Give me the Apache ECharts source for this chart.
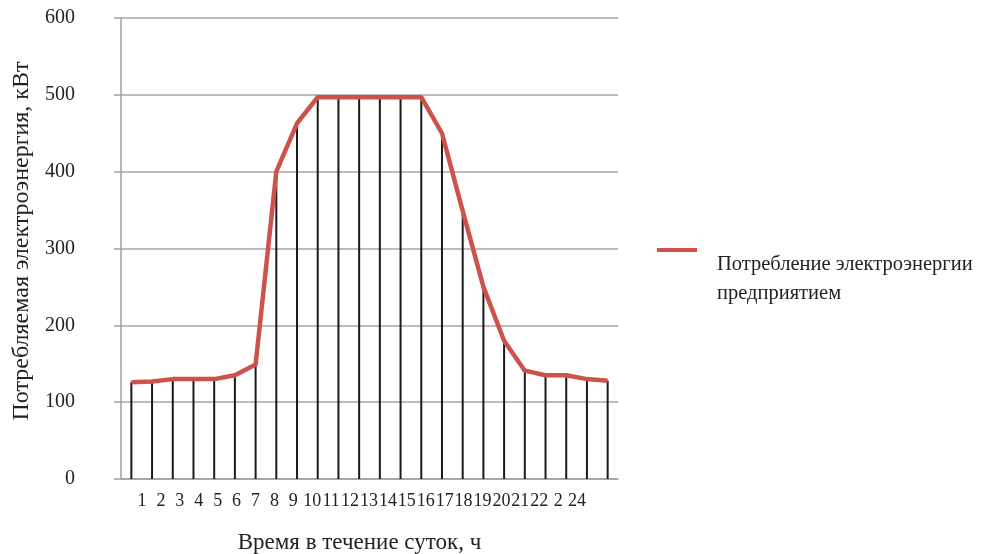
<!DOCTYPE html>
<html>
<head>
<meta charset="utf-8">
<script src="https://cdn.jsdelivr.net/npm/echarts@6/dist/echarts.min.js"></script>
<style>html,body{margin:0;padding:0;background:#fff}#c{width:984px;height:554px}</style>
</head>
<body>
<div id="c"></div>
<script>
const hours = ['1','2','3','4','5','6','7','8','9','10','11','12','13','14','15','16','17','18','19','20','21','22','23','24'];
const hourLabels = ['1','2','3','4','5','6','7','8','9','10','11','12','13','14','15','16','17','18','19','20','21','22','2','24'];
const consumption = [126,127,130,130,130,135,149,400,463,497,497,497,497,497,497,450,349,250,180,141,135,135,130,128];
const yTicks = [0,100,200,300,400,500,600];
const seriesName = 'Потребление электроэнергии\nпредприятием';

const serif = '"Liberation Serif","Times New Roman",serif';
const chart = echarts.init(document.getElementById('c'));
chart.setOption({
  animation: false,
  backgroundColor: '#fff',
  grid: [
    {left: 121, top: 18, right: 366, bottom: 75, outerBoundsMode: 'none', containLabel: false},
    {left: 132.5, top: 18, right: 397.5, bottom: 75, outerBoundsMode: 'none', containLabel: false}
  ],
  legend: {
    left: 652, top: 187,
    data: [seriesName],
    icon: 'rect', itemWidth: 40, itemHeight: 4,
    formatter: function (n) { return '\n\n' + n; },
    textStyle: {fontFamily: serif, fontSize: 20.5, color: '#222', lineHeight: 29, padding: [0,0,0,15]}
  },
  xAxis: [
    {
      type: 'category', gridIndex: 0, data: hours, boundaryGap: true,
      axisLine: {lineStyle: {color: '#a0a0a0', width: 1.5}},
      axisTick: {show: false}, axisLabel: {show: false}, splitLine: {show: false}
    },
    {
      type: 'category', gridIndex: 1, data: hourLabels, boundaryGap: true,
      axisLine: {show: false}, axisTick: {show: false}, splitLine: {show: false},
      axisLabel: {interval: 0, hideOverlap: false, margin: 13, fontFamily: serif, fontSize: 18, color: '#222'},
      name: 'Время в течение суток, ч', nameLocation: 'middle', nameGap: 52,
      nameTextStyle: {fontFamily: serif, fontSize: 23, color: '#222'}
    }
  ],
  yAxis: [
    {
      type: 'value', gridIndex: 0, min: yTicks[0], max: yTicks[yTicks.length-1], interval: 100,
      axisLine: {show: true, lineStyle: {color: '#a0a0a0', width: 1.5}},
      axisTick: {show: true, inside: false, length: 7, lineStyle: {color: '#a0a0a0', width: 1.5}},
      splitLine: {show: true, lineStyle: {color: '#a6a6a6', width: 1.5}},
      axisLabel: {margin: 46, fontFamily: serif, fontSize: 20, color: '#222'},
      name: 'Потребляемая электроэнергия, кВт', nameLocation: 'middle', nameGap: 87,
      nameTextStyle: {fontFamily: serif, fontSize: 24, color: '#222', padding: [0,0,0,15]}
    },
    {
      type: 'value', gridIndex: 1, min: 0, max: 600, show: false
    }
  ],
  series: [
    {
      name: 'drop', type: 'bar', xAxisIndex: 0, yAxisIndex: 0, data: consumption,
      barWidth: 2, itemStyle: {color: '#1a1a1a'}, silent: true, z: 1
    },
    {
      name: seriesName, type: 'line', xAxisIndex: 0, yAxisIndex: 0, data: consumption,
      showSymbol: false, symbol: 'none',
      lineStyle: {color: '#cd524c', width: 4.5, join: 'round'},
      itemStyle: {color: '#cd524c'}, z: 3
    }
  ]
});
</script>
</body>
</html>
